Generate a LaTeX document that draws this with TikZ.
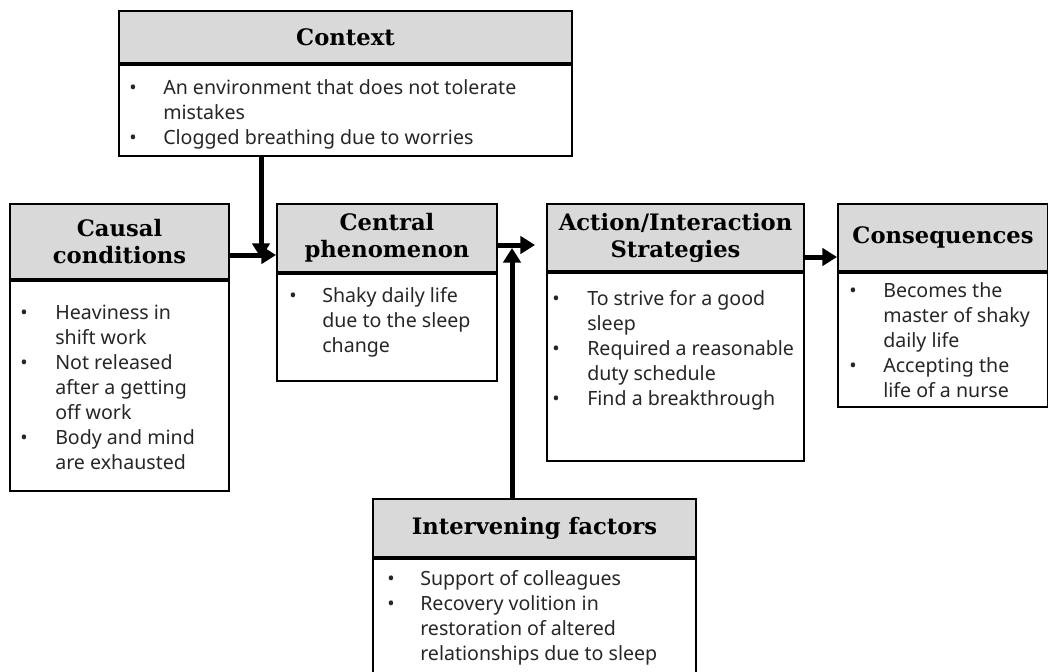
\documentclass[tikz,border=0pt]{standalone}
\usepackage{fontspec}
\setmainfont{Noto Sans}
\newfontfamily\hdfont{DejaVu Serif}
\usetikzlibrary{arrows.meta}
\definecolor{hdrgray}{HTML}{D9D9D9}
\definecolor{txtgray}{HTML}{262626}
\begin{document}
\begin{tikzpicture}[x=0.75pt,y=-0.75pt,
  hdr/.style={draw=black,line width=1.5pt,fill=hdrgray,anchor=north west,inner sep=0pt,
    font=\hdfont\bfseries\fontsize{17}{20.25}\selectfont,align=center},
  bdy/.style={draw=black,line width=1.5pt,fill=white,anchor=north west,inner sep=0pt},
  txt/.style={anchor=north west,inner sep=0pt,text=txtgray,
    font=\fontsize{14.7}{18.75}\selectfont},
  flow/.style={line width=3.75pt,-{Triangle[length=11pt,width=13pt]}}]
\useasboundingbox (0,0) rectangle (1048,671);
\fill[white] (0,0) rectangle (1048,671);

% Context
\node[hdr,minimum width=339.75pt,minimum height=39pt] (ctxh) at (118,10) {Context};
\node[bdy,minimum width=339.75pt,minimum height=68.25pt] (ctxb) at (ctxh.south west) {};
\node[txt] (ctxt) at (129,76.5) {\begin{tabular}{@{}p{25.5pt}@{}l@{}}
\textbullet & An environment that does not tolerate\\
 & mistakes\\
\textbullet & Clogged breathing due to worries
\end{tabular}};

% Causal conditions
\node[hdr,minimum width=164.25pt,minimum height=56.25pt] (cauh) at (9,203) {Causal\\conditions};
\node[bdy,minimum width=164.25pt,minimum height=157.5pt] (caub) at (cauh.south west) {};
\node[txt] (caut) at (20,301.5) {\begin{tabular}{@{}p{26.25pt}@{}l@{}}
\textbullet & Heaviness in\\
 & shift work\\
\textbullet & Not released\\
 & after a getting\\
 & off work\\
\textbullet & Body and mind\\
 & are exhausted
\end{tabular}};

% Central phenomenon
\node[hdr,minimum width=165pt,minimum height=51pt] (cenh) at (276,203) {Central\\phenomenon};
\node[bdy,minimum width=165pt,minimum height=80.25pt] (cenb) at (cenh.south west) {};
\node[txt] (cent) at (289,284.5) {\begin{tabular}{@{}p{24.75pt}@{}l@{}}
\textbullet & Shaky daily life\\
 & due to the sleep\\
 & change
\end{tabular}};

% Action/Interaction Strategies
\node[hdr,minimum width=192.75pt,minimum height=50.25pt] (acth) at (546,203) {Action/Interaction\\Strategies};
\node[bdy,minimum width=192.75pt,minimum height=141pt] (actb) at (acth.south west) {};
\node[txt] (actt) at (552,287.5) {\begin{tabular}{@{}p{26.25pt}@{}l@{}}
\textbullet & To strive for a good\\
 & sleep\\
\textbullet & Required a reasonable\\
 & duty schedule\\
\textbullet & Find a breakthrough
\end{tabular}};

% Consequences
\node[hdr,minimum width=157.5pt,minimum height=50.25pt] (conh) at (837,203) {Consequences};
\node[bdy,minimum width=157.5pt,minimum height=100.5pt] (conb) at (conh.south west) {};
\node[txt] (cont) at (849,279.5) {\begin{tabular}{@{}p{25.5pt}@{}l@{}}
\textbullet & Becomes the\\
 & master of shaky\\
 & daily life\\
\textbullet & Accepting the\\
 & life of a nurse
\end{tabular}};

% Intervening factors
\node[hdr,minimum width=242.25pt,minimum height=43.5pt] (inth) at (372,498) {Intervening factors};
\node[bdy,minimum width=242.25pt,minimum height=93pt] (intb) at (inth.south west) {};
\node[txt] (intt) at (387,567.5) {\begin{tabular}{@{}p{24.75pt}@{}l@{}}
\textbullet & Support of colleagues\\
\textbullet & Recovery volition in\\
 & restoration of altered\\
 & relationships due to sleep
\end{tabular}};

% connectors
\coordinate (m1) at (261,258);
\coordinate (m2) at (250,255);
\coordinate (m3) at (515,245);
\coordinate (m5) at (512,248);
\coordinate (m6) at (820,257);
\draw[flow] (ctxb.south -| m1) -- (m1);
\draw[flow] (cauh.east |- m2) -- (cenh.west |- m2);
\draw[flow,shorten >=8.25pt] (cenh.east |- m3) -- (acth.west |- m3);
\draw[flow] (inth.north -| m5) -- (m5);
\draw[flow] (acth.east |- m6) -- (conh.west |- m6);
\end{tikzpicture}
\end{document}
